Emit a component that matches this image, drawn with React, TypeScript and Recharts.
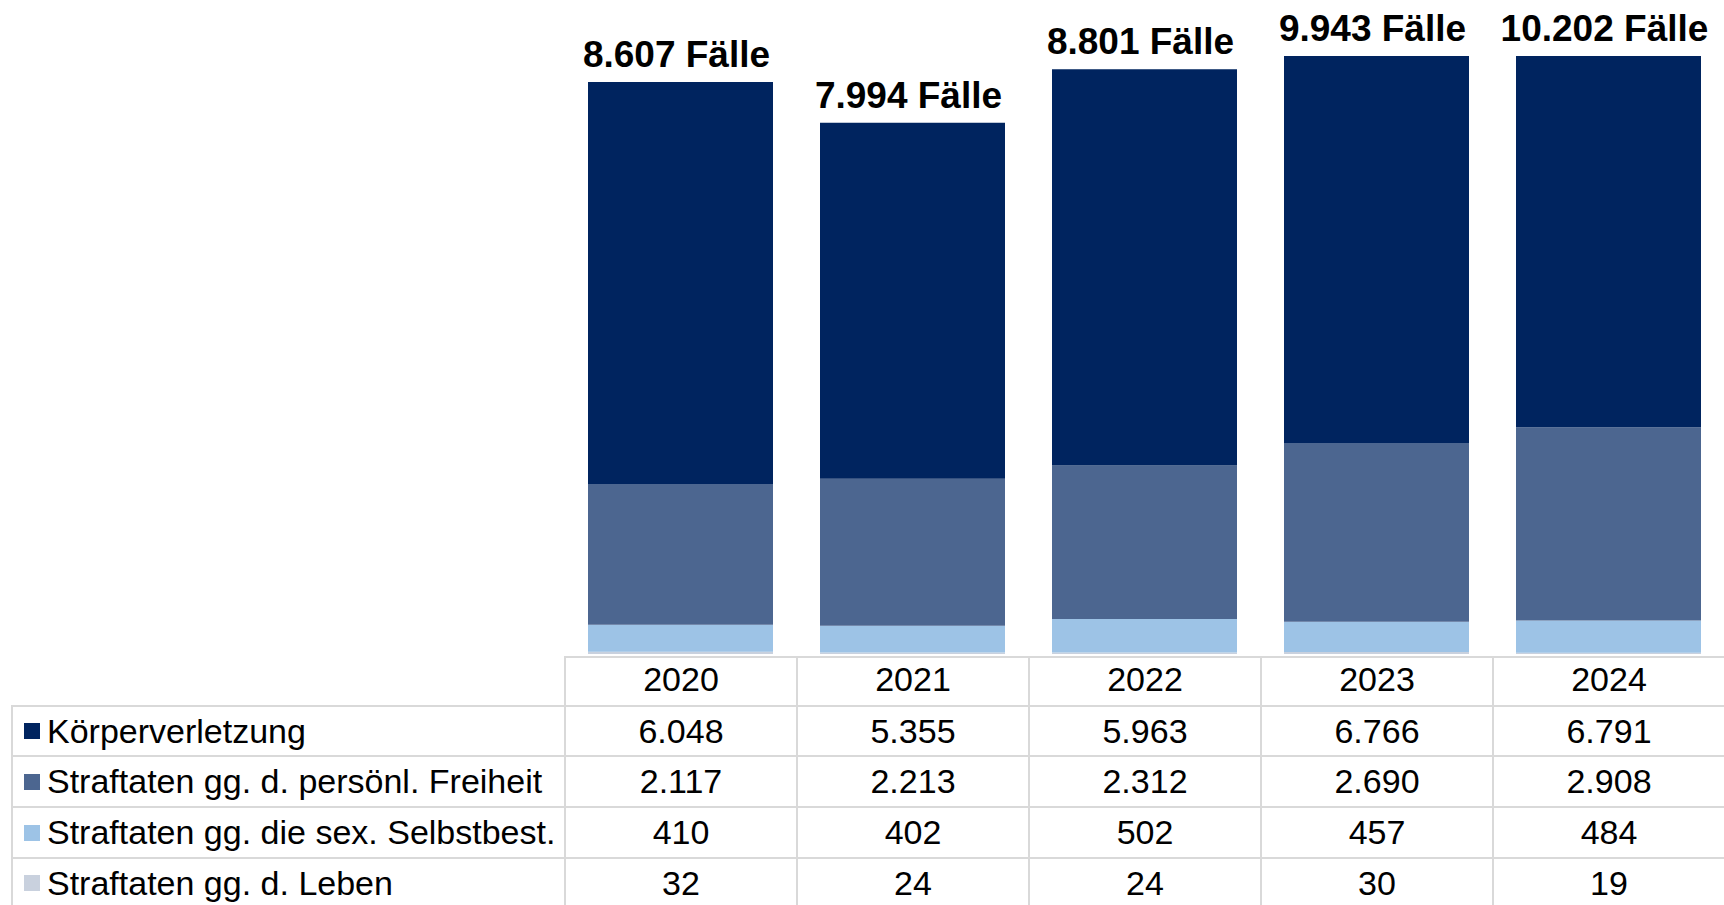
import { Bar, BarChart, LabelList, XAxis, YAxis } from "recharts";

const years = ["2020", "2021", "2022", "2023", "2024"];
const koerperverletzung = [6048, 5355, 5963, 6766, 6791];
const freiheit = [2117, 2213, 2312, 2690, 2908];
const selbstbest = [410, 402, 502, 457, 484];
const leben = [32, 24, 24, 30, 19];
const totals = [8607, 7994, 8801, 9943, 10202];

const seriesNames = [
  "Körperverletzung",
  "Straftaten gg. d. persönl. Freiheit",
  "Straftaten gg. die sex. Selbstbest.",
  "Straftaten gg. d. Leben",
];
const seriesColors = ["#00245f", "#4c6690", "#9dc3e6", "#c9d1de"];
const seriesValues = [koerperverletzung, freiheit, selbstbest, leben];

const data = years.map((year, i) => ({
  year,
  koerper: koerperverletzung[i],
  freiheit: freiheit[i],
  selbst: selbstbest[i],
  leben: leben[i],
  total: totals[i],
}));

const PLOT_TOP = 56;
const FONT = '"Liberation Sans", Arial, sans-serif';
const GRID = "2px solid #d9d9d9";

const fmt = (n: number) => String(n).replace(/\B(?=(\d{3})+(?!\d))/g, ".");

function TotalLabel(props: any) {
  const { x, y, width, value } = props;
  const top = Math.max(Number(y), PLOT_TOP);
  return (
    <text
      x={Number(x) + Number(width) / 2 - 4}
      y={top - 15}
      textAnchor="middle"
      fontFamily={FONT}
      fontWeight="bold"
      fontSize={37}
      fill="#000"
    >
      {fmt(Number(value))} Fälle
    </text>
  );
}

function DataTable() {
  const cols = "553px repeat(5, 232px)";
  const cell: React.CSSProperties = {
    display: "flex",
    alignItems: "center",
    justifyContent: "center",
    borderLeft: GRID,
    borderTop: GRID,
    boxSizing: "border-box",
  };
  return (
    <div
      style={{
        position: "absolute",
        left: 11,
        top: 656,
        display: "grid",
        gridTemplateColumns: cols,
        gridTemplateRows: "49px 50px 51px 51px 50px",
        fontFamily: FONT,
        fontSize: 34,
        color: "#000",
      }}
    >
      <div />
      {years.map((y) => (
        <div key={y} style={{ ...cell, paddingBottom: 4 }}>
          {y}
        </div>
      ))}
      {seriesNames.map((name, r) => (
        <>
          <div
            key={name}
            style={{ ...cell, justifyContent: "flex-start", paddingLeft: 11 }}
          >
            <span
              style={{
                width: 16,
                height: 16,
                background: seriesColors[r],
                marginRight: 7,
                flexShrink: 0,
              }}
            />
            <span style={{ whiteSpace: "nowrap" }}>{name}</span>
          </div>
          {seriesValues[r].map((v, c) => (
            <div key={name + c} style={cell}>
              {fmt(v)}
            </div>
          ))}
        </>
      ))}
    </div>
  );
}

export default function App() {
  return (
    <div
      style={{
        position: "relative",
        width: 1724,
        height: 905,
        overflow: "hidden",
        background: "#fff",
      }}
    >
      <style>{`body{margin:0}`}</style>
      <BarChart
        width={1724}
        height={905}
        data={data}
        margin={{ top: PLOT_TOP, right: 0, bottom: 251, left: 564 }}
        barSize={185}
      >
        <XAxis dataKey="year" hide />
        <YAxis hide width={0} domain={[0, 9000]} allowDataOverflow />
        <Bar dataKey="leben" stackId="a" fill={seriesColors[3]} isAnimationActive={false} />
        <Bar dataKey="selbst" stackId="a" fill={seriesColors[2]} isAnimationActive={false} />
        <Bar dataKey="freiheit" stackId="a" fill={seriesColors[1]} isAnimationActive={false} />
        <Bar dataKey="koerper" stackId="a" fill={seriesColors[0]} isAnimationActive={false}>
          <LabelList dataKey="total" content={<TotalLabel />} />
        </Bar>
      </BarChart>
      <DataTable />
    </div>
  );
}
